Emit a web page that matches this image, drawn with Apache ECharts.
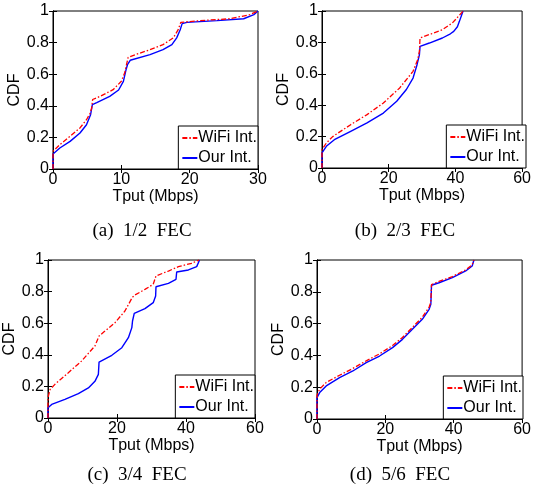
<!DOCTYPE html>
<html>
<head>
<meta charset="utf-8">
<script src="https://cdn.jsdelivr.net/npm/echarts@6/dist/echarts.min.js"></script>
<style>
html,body{margin:0;padding:0;background:#fff;}
#c{width:534px;height:487px;}
</style>
</head>
<body>
<div id="c"></div>
<script>
// ---- data (x = Tput in Mbps, y = CDF) ----
const captions = ['(a)  1/2  FEC', '(b)  2/3  FEC', '(c)  3/4  FEC', '(d)  5/6  FEC'];
const xMaxes = [30, 60, 60, 60];
const xIntervals = [10, 20, 20, 20];
const yTicks = [0, 0.2, 0.4, 0.6, 0.8, 1];

const wifiA = [[0,0],[0,0.112],[1,0.154],[2.5,0.207],[3.95,0.26],[4.9,0.312],[5.4,0.35],[5.66,0.386],[5.8,0.44],[6.9,0.46],[8.8,0.502],[10,0.555],[10.5,0.61],[10.7,0.65],[11,0.707],[12.5,0.73],[14.2,0.755],[16.1,0.787],[17.6,0.83],[18.3,0.88],[18.7,0.928],[21.5,0.939],[25.9,0.951],[28.8,0.977],[30,1]];
const oursA = [[0,0],[0,0.095],[1,0.133],[2.5,0.175],[3.95,0.228],[4.9,0.28],[5.5,0.344],[5.76,0.407],[6.4,0.42],[8.3,0.46],[9.6,0.5],[10.3,0.555],[10.7,0.63],[10.9,0.66],[11.3,0.688],[14.2,0.724],[16.1,0.755],[17.4,0.787],[18.1,0.83],[18.6,0.88],[18.9,0.92],[19.6,0.928],[24,0.939],[27.9,0.951],[29.4,0.977],[30,1]];

const wifiB = [[0,0],[0,0.117],[1.3,0.159],[3.2,0.2],[8.6,0.276],[13.5,0.34],[18.4,0.414],[23.3,0.51],[27.3,0.616],[28.7,0.69],[29.2,0.743],[29.4,0.828],[32.2,0.85],[36.1,0.881],[39.1,0.924],[41.8,0.987],[42.3,1]];
const oursB = [[0,0],[0,0.096],[1.3,0.138],[3.7,0.18],[8.6,0.234],[13.5,0.287],[18.4,0.35],[22.4,0.425],[25.3,0.5],[27.3,0.573],[28.5,0.658],[29.2,0.72],[29.4,0.775],[32.2,0.796],[36.1,0.828],[38.5,0.855],[39.5,0.87],[40.6,0.9],[41.2,0.934],[42.3,1]];

const wifiC = [[0,0],[0,0.13],[0.6,0.18],[2,0.213],[5.9,0.287],[9.7,0.36],[13.6,0.456],[14.8,0.519],[16.5,0.55],[19.4,0.603],[22.3,0.677],[24.4,0.762],[25,0.776],[28.1,0.814],[30.5,0.846],[31.3,0.899],[34.9,0.93],[37.8,0.958],[41.6,0.979],[43.8,1]];
const oursC = [[0,0],[0,0.065],[1.06,0.086],[4.9,0.118],[8.8,0.154],[11.7,0.19],[13.6,0.232],[14.6,0.276],[14.8,0.354],[18.5,0.397],[21.4,0.445],[23.3,0.508],[24.3,0.572],[24.5,0.614],[25,0.662],[28.1,0.692],[30.5,0.73],[31.2,0.772],[31.3,0.831],[34.9,0.852],[37.1,0.878],[37.3,0.924],[40.7,0.937],[43.1,0.958],[43.8,0.994],[43.9,1]];

const wifiD = [[0,0],[0,0.15],[0.78,0.188],[2.7,0.23],[6.6,0.275],[10.5,0.318],[14.4,0.366],[18.3,0.41],[22.1,0.462],[25,0.513],[27.9,0.576],[30.8,0.64],[32.8,0.704],[33.3,0.735],[33.5,0.846],[35.7,0.865],[39.6,0.896],[43.5,0.938],[45.4,0.97],[45.9,1]];
const oursD = [[0,0],[0,0.134],[0.78,0.166],[2.7,0.208],[6.6,0.26],[10.5,0.302],[14.4,0.354],[18.3,0.396],[22.1,0.449],[25,0.501],[27.9,0.564],[30.8,0.627],[32.8,0.69],[33.3,0.721],[33.5,0.841],[35.7,0.857],[39.6,0.889],[43.5,0.931],[45.4,0.962],[45.9,1]];

const wifiSets = [wifiA, wifiB, wifiC, wifiD];
const oursSets = [oursA, oursB, oursC, oursD];

// ---- layout ----
const W = 534, H = 487;
const boxes = [
  {l:53, r:258, t:11, b:169},
  {l:322, r:526, t:11, b:168},
  {l:48, r:255, t:260, b:418},
  {l:317, r:523, t:260, b:419}
];
const captionPos = [[137,228],[400,228],[132,472],[395,472]];
const sans = 'Liberation Sans, Arial, Helvetica, sans-serif';

const grid = [], xAxis = [], yAxis = [], series = [], legend = [], title = [];
boxes.forEach((bx, i) => {
  grid.push({left: bx.l, top: bx.t, width: bx.r - bx.l, height: bx.b - bx.t,
    show: true, borderColor: '#000', borderWidth: 1, backgroundColor: '#fff'});
  const common = {
    axisLine: {show: true, lineStyle: {color: '#000', width: 1}},
    axisTick: {show: true, inside: true, length: 4, lineStyle: {color: '#000'}},
    splitLine: {show: false}
  };
  xAxis.push(Object.assign({}, common, {
    type: 'value', gridIndex: i, position: 'bottom', min: 0, max: xMaxes[i], interval: xIntervals[i],
    name: 'Tput (Mbps)', nameLocation: 'middle', nameGap: 16,
    nameTextStyle: {fontFamily: sans, fontSize: 16, color: '#000'},
    axisLabel: {fontFamily: sans, fontSize: 16, color: '#000', margin: 3}
  }));
  xAxis.push(Object.assign({}, common, {
    type: 'value', gridIndex: i, position: 'top', min: 0, max: xMaxes[i], interval: xIntervals[i],
    axisLabel: {show: false}
  }));
  yAxis.push(Object.assign({}, common, {
    type: 'value', gridIndex: i, position: 'left', min: 0, max: 1, interval: 0.2,
    name: 'CDF', nameLocation: 'middle', nameGap: 30,
    nameTextStyle: {fontFamily: sans, fontSize: 16, color: '#000'},
    axisLabel: {fontFamily: sans, fontSize: 16, color: '#000', margin: 4,
      formatter: v => String(Math.round(v * 10) / 10)}
  }));
  yAxis.push(Object.assign({}, common, {
    type: 'value', gridIndex: i, position: 'right', min: 0, max: 1, interval: 0.2,
    axisLabel: {show: false}
  }));
  series.push({
    name: 'WiFi Int.', type: 'line', xAxisIndex: 2 * i, yAxisIndex: 2 * i,
    data: wifiSets[i], symbol: 'none', smooth: false, z: 3,
    lineStyle: {color: '#ff0000', width: 1.3, type: [5, 2, 1.5, 2]},
    itemStyle: {color: '#ff0000'}
  });
  series.push({
    name: 'Our Int.', type: 'line', xAxisIndex: 2 * i, yAxisIndex: 2 * i,
    data: oursSets[i], symbol: 'none', smooth: false, z: 2,
    lineStyle: {color: '#0000ff', width: 1.4, type: 'solid'},
    itemStyle: {color: '#0000ff'}
  });
  legend.push({
    data: ['WiFi Int.', 'Our Int.'], orient: 'vertical',
    right: W - bx.r, bottom: H - bx.b,
    backgroundColor: '#fff', borderColor: '#000', borderWidth: 1,
    padding: [4, 1, 3, 3], itemGap: 4, itemWidth: 15, itemHeight: 14,
    itemStyle: {opacity: 0},
    textStyle: {fontFamily: sans, fontSize: 16, color: '#000', padding: [0, 0, 0, -4]},
    selectedMode: false
  });
  title.push({
    text: captions[i], left: captionPos[i][0], top: captionPos[i][1] - 11, textAlign: 'center',
    textStyle: {fontFamily: 'Liberation Serif, Times New Roman, serif', fontSize: 19, fontWeight: 'normal', color: '#000'}
  });
});

const chart = echarts.init(document.getElementById('c'), null, {renderer: 'canvas'});
chart.setOption({
  animation: false,
  backgroundColor: '#fff',
  title, grid, xAxis, yAxis, series, legend
});
</script>
</body>
</html>
